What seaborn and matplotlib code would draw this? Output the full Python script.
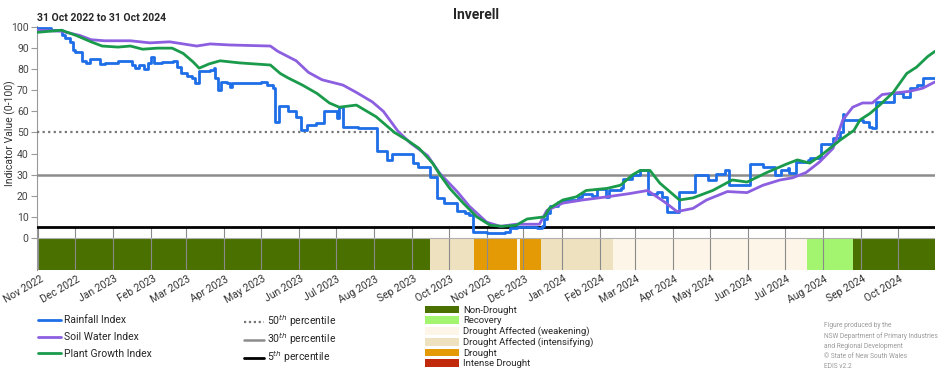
import matplotlib
matplotlib.use("Agg")
import matplotlib.pyplot as plt
import matplotlib.dates as mdates
import matplotlib.transforms as mtransforms
from matplotlib.lines import Line2D
from matplotlib.patches import Patch
import pandas as pd
import seaborn as sns

# ---- data ----
rain_dates = ["2022-10-31", "2022-11-11", "2022-11-20", "2022-11-23", "2022-11-27", "2022-11-29",
              "2022-12-01", "2022-12-07", "2022-12-10", "2022-12-13", "2022-12-21", "2022-12-25",
              "2023-01-05", "2023-01-16", "2023-01-19", "2023-01-22", "2023-01-26", "2023-01-29",
              "2023-02-01", "2023-02-03", "2023-02-10", "2023-02-19", "2023-02-22", "2023-02-25",
              "2023-03-02", "2023-03-06", "2023-03-09", "2023-03-12", "2023-03-21", "2023-03-24",
              "2023-03-25", "2023-03-27", "2023-03-30", "2023-04-04", "2023-04-06", "2023-04-08",
              "2023-05-01", "2023-05-06", "2023-05-11", "2023-05-13", "2023-05-16", "2023-05-23",
              "2023-05-30", "2023-06-03", "2023-06-08", "2023-06-15", "2023-06-22", "2023-07-02",
              "2023-07-04", "2023-07-07", "2023-07-19", "2023-08-04", "2023-08-12", "2023-08-16",
              "2023-09-02", "2023-09-06", "2023-09-16", "2023-09-22", "2023-09-27", "2023-10-08",
              "2023-10-14", "2023-10-18", "2023-10-21", "2023-11-01", "2023-11-16", "2023-11-20",
              "2023-11-26", "2023-12-12", "2023-12-16", "2023-12-18", "2023-12-20", "2023-12-23",
              "2023-12-29", "2024-01-02", "2024-01-14", "2024-01-18", "2024-01-26", "2024-01-30",
              "2024-02-06", "2024-02-09", "2024-02-18", "2024-02-20", "2024-02-27", "2024-03-05",
              "2024-03-11", "2024-03-19", "2024-03-23", "2024-03-27", "2024-04-06", "2024-04-19",
              "2024-04-29", "2024-05-06", "2024-05-13", "2024-05-16", "2024-06-02", "2024-06-13",
              "2024-06-23", "2024-06-28", "2024-07-03", "2024-07-04", "2024-07-10", "2024-07-20",
              "2024-07-21", "2024-07-30", "2024-08-09", "2024-08-15", "2024-08-17", "2024-08-18",
              "2024-09-02", "2024-09-07", "2024-09-10", "2024-09-13", "2024-09-28", "2024-10-05",
              "2024-10-11", "2024-10-16", "2024-10-21", "2024-10-31"]
rain_values = [99.5, 98.5, 96, 95, 93, 89,
               88, 84, 83, 85, 82.5, 83,
               84, 82, 80.5, 82, 80, 83,
               86, 83, 83.5, 84, 81, 78,
               77, 76, 73.5, 79, 79.5, 80.5,
               76, 70, 74, 73.5, 71.5, 73.5,
               74, 72.5, 71, 55, 62.5, 60,
               57.5, 51, 53.5, 54.5, 60, 57,
               62, 52.5, 52, 41, 37, 40,
               35.5, 33.5, 29, 19, 16.5, 13,
               12, 11, 3, 2.5, 3, 4.5,
               5, 4.5, 5.5, 9, 12, 15,
               17, 18, 19.5, 21, 20, 23,
               19.5, 22.5, 23.5, 28, 30, 32,
               21, 22, 19.5, 12.5, 22, 30,
               27.5, 30.5, 32, 25, 35, 33.5,
               30, 32, 33, 31, 36, 37,
               38, 44.5, 47.5, 50, 59, 56,
               55, 52.5, 52, 64.5, 68.5, 67,
               71, 72.5, 76, 76]

soil_dates = ["2022-10-31", "2022-11-20", "2022-12-05", "2022-12-14", "2022-12-25", "2023-01-15",
              "2023-01-31", "2023-02-16", "2023-03-10", "2023-03-21", "2023-04-06", "2023-05-09",
              "2023-05-15", "2023-05-30", "2023-06-09", "2023-06-20", "2023-07-07", "2023-07-18",
              "2023-07-31", "2023-08-09", "2023-08-21", "2023-08-31", "2023-09-14", "2023-09-24",
              "2023-10-08", "2023-10-18", "2023-11-01", "2023-11-12", "2023-11-25", "2023-12-14",
              "2023-12-20", "2024-01-02", "2024-01-18", "2024-02-07", "2024-02-25", "2024-03-11",
              "2024-03-25", "2024-04-04", "2024-04-17", "2024-04-28", "2024-05-15", "2024-05-31",
              "2024-06-13", "2024-06-27", "2024-07-07", "2024-07-18", "2024-07-29", "2024-08-09",
              "2024-08-17", "2024-08-25", "2024-09-02", "2024-09-10", "2024-09-18", "2024-10-02",
              "2024-10-10", "2024-10-21", "2024-10-31"]
soil_values = [98.5, 98, 96, 94, 93.5, 93.5,
               92.5, 93, 91, 92, 91.5, 91,
               88.5, 84, 78.5, 75, 72.5, 69,
               64.5, 60, 50.5, 45, 39, 30.5,
               22, 15, 7.5, 5.5, 6.5, 6.5,
               13, 16.5, 18, 19.5, 21, 22.5,
               17, 12.5, 14, 18, 22, 21.5,
               25, 27.5, 28.5, 31, 36, 42.5,
               56, 62, 64, 64, 68, 69,
               69.5, 71, 74]

plant_dates = ["2022-10-31", "2022-11-20", "2022-12-02", "2022-12-14", "2022-12-23", "2023-01-05",
               "2023-01-15", "2023-01-25", "2023-02-06", "2023-02-18", "2023-02-27", "2023-03-07",
               "2023-03-12", "2023-03-20", "2023-03-29", "2023-04-14", "2023-05-09", "2023-05-17",
               "2023-05-23", "2023-06-04", "2023-06-16", "2023-06-26", "2023-07-04", "2023-07-18",
               "2023-08-03", "2023-08-18", "2023-08-28", "2023-09-07", "2023-09-18", "2023-09-24",
               "2023-10-02", "2023-10-13", "2023-10-24", "2023-11-04", "2023-11-14", "2023-11-25",
               "2023-12-04", "2023-12-18", "2023-12-22", "2024-01-02", "2024-01-13", "2024-01-21",
               "2024-02-07", "2024-02-18", "2024-02-28", "2024-03-05", "2024-03-13", "2024-03-21",
               "2024-03-29", "2024-04-06", "2024-04-17", "2024-05-03", "2024-05-19", "2024-05-31",
               "2024-06-16", "2024-07-02", "2024-07-11", "2024-07-21", "2024-07-31", "2024-08-15",
               "2024-08-26", "2024-08-31", "2024-09-08", "2024-09-16", "2024-09-27", "2024-10-08",
               "2024-10-16", "2024-10-25", "2024-10-31"]
plant_values = [97.5, 98.5, 96, 93, 91, 90.5,
                91, 89.5, 90, 90, 87.5, 83.5,
                80.5, 82.5, 84, 83, 82, 78,
                76, 72.5, 68.5, 64, 62, 63,
                57.5, 50, 46.5, 42.5, 35.5, 30,
                23.5, 16.5, 10, 6, 5.5, 6,
                9, 10, 14, 18, 19.5, 22.5,
                23.5, 25, 30, 32, 32, 26,
                22, 18, 19, 22.5, 27.5, 26.5,
                31, 35, 37, 35.5, 39.5, 46.5,
                51, 56, 59, 63, 69, 78,
                81, 86, 88.5]

# drought status periods (start, end, category)
status_starts = ["2022-10-31", "2023-09-16", "2023-10-22", "2023-11-26", "2023-11-28",
                 "2023-12-15", "2024-02-12", "2024-07-19", "2024-08-25"]
status_ends = ["2023-09-16", "2023-10-22", "2023-11-26", "2023-11-28", "2023-12-15",
               "2024-02-12", "2024-07-19", "2024-08-25", "2024-10-31"]
status_names = ["Non-Drought", "Drought Affected (intensifying)", "Drought",
                "Drought Affected (weakening)", "Drought", "Drought Affected (intensifying)",
                "Drought Affected (weakening)", "Recovery", "Non-Drought"]

status_categories = ["Non-Drought", "Recovery", "Drought Affected (weakening)",
                     "Drought Affected (intensifying)", "Drought", "Intense Drought"]
status_colors = ["#4a7000", "#a3f56f", "#fcf5e8", "#eee1bf", "#e39a05", "#c0290a"]

percentiles = [50, 30, 5]
series_names = ["Rainfall Index", "Soil Water Index", "Plant Growth Index"]
series_colors = ["#1e6ee8", "#8c5fe0", "#1a9b4b"]

# ---- figure ----
sns.set_style("white")
plt.rcParams['font.family'] = ['Roboto', 'DejaVu Sans']

fig = plt.figure(figsize=(9.52, 3.70), dpi=100)
ax = fig.add_axes([37 / 952, 1 - 270 / 370, 898 / 952, 244 / 370])

band_bottom = -15.2
color_lookup = dict(zip(status_categories, status_colors))
for s, e, name in zip(status_starts, status_ends, status_names):
    ax.fill_between(pd.to_datetime([s, e]), band_bottom, 0, color=color_lookup[name],
                    linewidth=0, zorder=1)

month_starts = pd.date_range("2022-11-01", "2024-10-01", freq="MS")
ax.vlines(month_starts, band_bottom, 5, color="#8a8a8a", linewidth=0.8, zorder=2)
ax.axhline(0, color="#b0b0b0", linewidth=0.8, zorder=2)

# percentile reference lines
ax.axhline(percentiles[0], color="#777777", linestyle=(0, (1, 1.5)), linewidth=1.6, zorder=3)
ax.axhline(percentiles[1], color="#8c8c8c", linewidth=1.8, zorder=3)
ax.axhline(percentiles[2], color="black", linewidth=2.0, zorder=3)

series = [(rain_dates, rain_values, "steps-post"),
          (soil_dates, soil_values, "default"),
          (plant_dates, plant_values, "default")]
for (d, v, style), name, col in zip(series, series_names, series_colors):
    df = pd.DataFrame({"date": pd.to_datetime(d), "value": v})
    sns.lineplot(data=df, x="date", y="value", ax=ax, color=col, linewidth=2,
                 drawstyle=style, zorder=4)

ax.set_xlim(pd.Timestamp("2022-10-31"), pd.Timestamp("2024-10-31"))
ax.set_ylim(band_bottom, 100.5)
ax.set_yticks(range(0, 101, 10))
ax.set_xticks(month_starts)
ax.xaxis.set_major_formatter(mdates.DateFormatter("%b %Y"))
ax.tick_params(axis="x", length=0, labelsize=7.5, colors="#333333", pad=6)
shift = mtransforms.ScaledTranslation(4 / 100, 0, fig.dpi_scale_trans)
for lab in ax.get_xticklabels():
    lab.set_rotation(30)
    lab.set_ha("right")
    lab.set_va("center")
    lab.set_rotation_mode("anchor")
    lab.set_transform(lab.get_transform() + shift)
ax.tick_params(axis="y", length=4, width=0.8, color="#999999", labelsize=7.5,
               labelcolor="#444444", pad=2, left=True)
ax.set_xlabel("")
ax.set_ylabel("Indicator Value (0-100)", fontsize=7.5, color="#333333")
ax.yaxis.set_label_coords(-0.0235, 0.56)
for side in ["top", "right", "bottom"]:
    ax.spines[side].set_visible(False)
ax.spines["left"].set_color("#999999")
ax.spines["left"].set_linewidth(0.8)

fig.text(0.5, 1 - 15 / 370, "Inverell", ha="center", va="center", fontsize=10,
         fontweight="bold")
fig.text(37 / 952, 1 - 18 / 370, "31 Oct 2022 to 31 Oct 2024", ha="left", va="center",
         fontsize=7.5, fontweight="bold")

# legends
line_handles = [Line2D([], [], color=c, linewidth=2) for c in series_colors]
fig.legend(line_handles, series_names, loc="upper left",
           bbox_to_anchor=(29 / 952, 1 - 306 / 370), frameon=False, fontsize=7.5,
           handlelength=2.2, handletextpad=0.25, labelspacing=0.65)

pct_handles = [Line2D([], [], color="#777777", linestyle=(0, (1, 1.2)), linewidth=1.6),
               Line2D([], [], color="#8c8c8c", linewidth=1.8),
               Line2D([], [], color="black", linewidth=2.0)]
pct_labels = [f"{p}$^{{th}}$ percentile" for p in percentiles]
fig.legend(pct_handles, pct_labels, loc="upper left",
           bbox_to_anchor=(235 / 952, 1 - 304 / 370), frameon=False, fontsize=7.5,
           handlelength=1.9, handletextpad=0.3, labelspacing=0.22)

patch_handles = [Patch(facecolor=c, edgecolor="none") for c in status_colors]
fig.legend(patch_handles, status_categories, loc="upper left",
           bbox_to_anchor=(416 / 952, 1 - 297 / 370), frameon=False, fontsize=6.8,
           handlelength=3.7, handleheight=0.85, handletextpad=0.4, labelspacing=0.16)

fig.text(824 / 952, 1 - 322 / 370,
         "Figure produced by the\nNSW Department of Primary Industries\n"
         "and Regional Development\n\u00a9 State of New South Wales\nEDIS v2.2",
         ha="left", va="top", fontsize=4.8, color="#9a9a9a", linespacing=1.6)

fig.savefig("out.png", dpi=100)
